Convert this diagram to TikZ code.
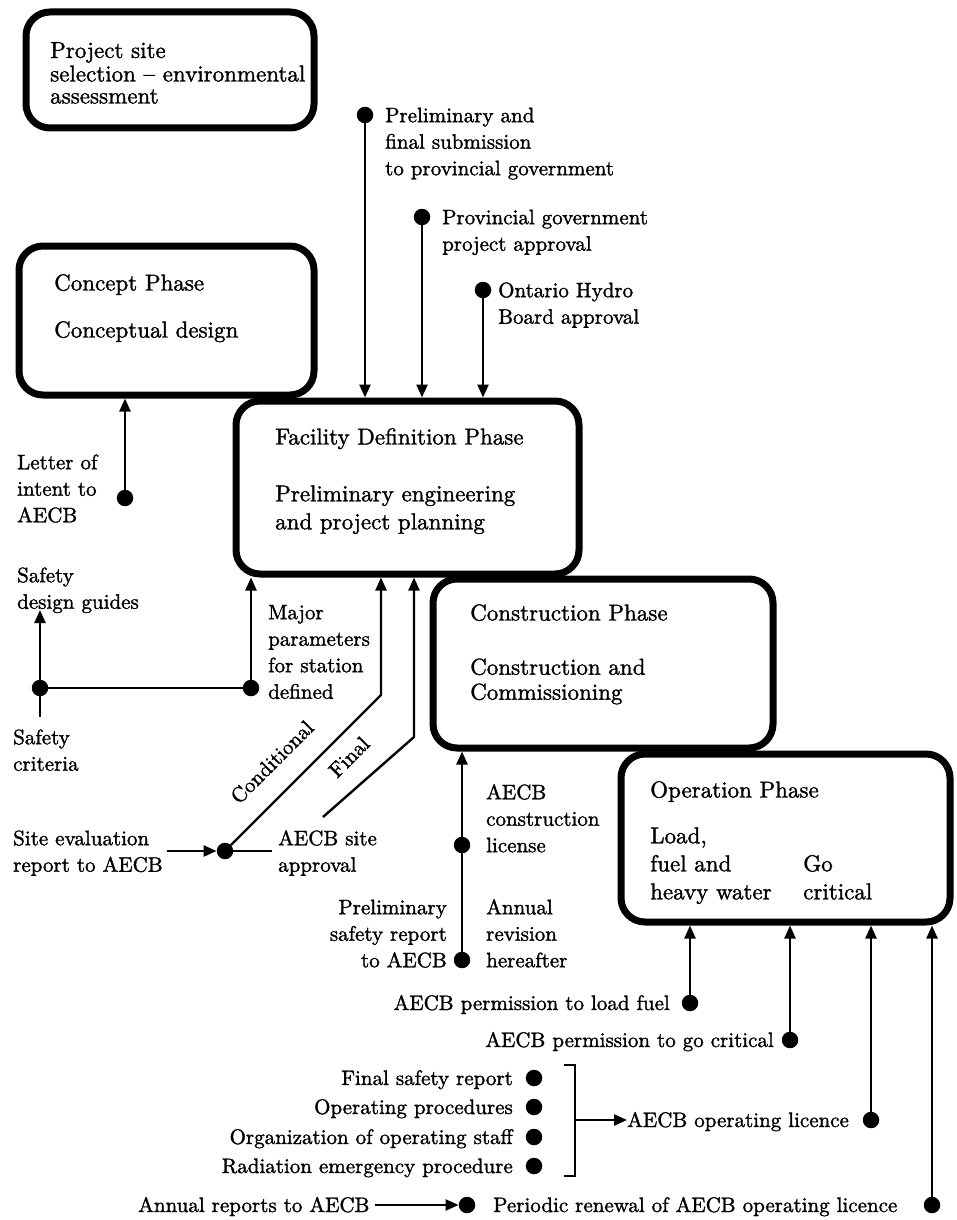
\documentclass[tikz,border=0pt]{standalone}
\usepackage{fontspec}
\setmainfont{lmroman10-regular}[Extension=.otf, FakeBold=1.4]
\usetikzlibrary{arrows.meta}
\newcommand\lblfont{\fontsize{21}{26.5}\selectfont}
\newcommand\boxfont{\fontsize{23}{25}\selectfont}
\begin{document}
\begin{tikzpicture}[x=1pt,y=-1pt,
  phase/.style={draw, line width=7pt, rounded corners=24pt, rectangle, inner sep=0pt},
  conn/.style={line width=2.4pt},
  arr/.style={conn, -{Triangle[length=13pt,width=11pt]}},
  dot/.style={circle, fill, inner sep=0pt, minimum size=16.5pt},
  lbl/.style={font=\lblfont, inner sep=0pt, align=left, anchor=north west},
  lblr/.style={font=\lblfont, inner sep=0pt, align=right, anchor=north east},
  one/.style={font=\lblfont, inner sep=0pt, anchor=base west},
  oner/.style={font=\lblfont, inner sep=0pt, anchor=base east},
  bt/.style={font=\boxfont, inner sep=0pt, align=left, anchor=north west},
  bt1/.style={font=\boxfont, inner sep=0pt, anchor=base west}]
\useasboundingbox (0,0) rectangle (956,1220);

% ---------------- phase boxes ----------------
\node[phase, minimum width=288pt, minimum height=116pt] (site)  at (170,70) {};
\node[phase, minimum width=295pt, minimum height=149pt] (concept) at (166.5,320.5) {};
\node[phase, minimum width=343pt, minimum height=173pt] (facility) at (407.5,487.5) {};
\node[phase, minimum width=340pt, minimum height=169pt] (constr) at (603,663.5) {};
\node[phase, minimum width=329pt, minimum height=168pt] (oper) at (785.5,838) {};

% ---------------- box texts ----------------
\node[bt, font=\fontsize{23}{22}\selectfont] (siteT) at (50,42) {\strut Project site\\selection -- environmental\\assessment};
\node[bt1] (conceptT) at (54,290.5) {Concept Phase};
\node[bt1] (conceptD) at (54,337.5) {Conceptual design};
\node[bt1] (facilityT) at (275,444.5) {Facility Definition Phase};
\node[bt, font=\fontsize{23}{28}\selectfont] (facilityD) at (275,481.5) {\strut Preliminary engineering\\and project planning};
\node[bt1] (constrT) at (470,620.5) {Construction Phase};
\node[bt] (constrD) at (470,657) {\strut Construction and\\Commissioning};
\node[bt1] (operT) at (650,797.5) {Operation Phase};
\node[bt, font=\fontsize{23}{28}\selectfont] (operL) at (650,823.5) {\strut Load,\\fuel and\\heavy water};
\node[bt, font=\fontsize{23}{28}\selectfont] (operG) at (803,851.5) {\strut Go\\critical};

% ---------------- inputs to facility definition (top) ----------------
\node[dot] (dprelim) at (365,115) {};
\node[dot] (dprov) at (422,217) {};
\node[dot] (dhydro) at (483,290) {};
\node[lbl] (lprelim) at (385,103.5) {\strut Preliminary and\\final submission\\to provincial government};
\node[lbl] (lprov) at (442,205.5) {\strut Provincial government\\project approval};
\node[lbl] (lhydro) at (498,278.5) {\strut Ontario Hydro\\Board approval};
\draw[arr] (dprelim) -- (dprelim |- facility.north);
\draw[arr] (dprov) -- (dprov |- facility.north);
\draw[arr] (dhydro) -- (dhydro |- facility.north);

% ---------------- letter of intent ----------------
\node[dot] (dletter) at (125,498) {};
\node[lbl] (lletter) at (17,450.5) {\strut Letter of\\intent to\\AECB};
\draw[arr] (dletter) -- (dletter |- concept.south);

% ---------------- safety criteria / major parameters ----------------
\node[dot] (dsafe) at (40,688) {};
\node[dot] (dmajor) at (251,688) {};
\coordinate (guidesTip) at (40,610);
\coordinate (critEnd) at (40,717);
\node[lbl] (lguides) at (17,563.5) {\strut Safety\\design guides};
\node[lbl] (lcrit) at (13,725.5) {\strut Safety\\criteria};
\node[lbl] (lmajor) at (268,600.5) {\strut Major\\parameters\\for station\\defined};
\draw[arr] (dsafe) -- (guidesTip);
\draw[conn] (dsafe) -- (critEnd);
\draw[conn] (dsafe) -- (dmajor);
\draw[arr] (dmajor) -- (dmajor |- facility.south);

% ---------------- site evaluation / approvals ----------------
\node[dot] (dsite) at (225,851) {};
\coordinate (siteStart) at (167,851);
\coordinate (siteEnd) at (272,851);
\coordinate (condBend) at (381,695);
\coordinate (finalStart) at (323,817);
\coordinate (finalBend) at (414,737);
\node[lbl] (lsiteeval) at (13,826.5) {\strut Site evaluation\\report to AECB};
\node[lbl] (lsiteappr) at (278,826.5) {\strut AECB site\\approval};
\draw[arr] (siteStart) -- (dsite);
\draw[conn] (dsite) -- (siteEnd);
\draw[arr] (dsite) -- (condBend) -- (condBend |- facility.south);
\draw[arr] (finalStart) -- (finalBend) -- (finalBend |- facility.south);
\node[font=\lblfont, rotate=45, inner sep=0pt] (lcond) at (272,762) {Conditional};
\node[font=\lblfont, rotate=45, inner sep=0pt] (lfinal) at (349,757) {Final};

% ---------------- construction licence ----------------
\node[dot] (dlic) at (462,845) {};
\node[dot] (drep) at (462,960) {};
\node[lbl] (llic) at (486,780.5) {\strut AECB\\construction\\license};
\node[lblr] (lrep) at (447,895.5) {\strut Preliminary\\safety report\\to AECB};
\node[lbl] (lrev) at (486,895.5) {\strut Annual\\revision\\hereafter};
\draw[conn] (drep) -- (dlic);
\draw[arr] (dlic) -- (dlic |- constr.south);

% ---------------- operation permissions ----------------
\node[dot] (dfuel) at (690,1003) {};
\node[dot] (dcrit) at (790,1040) {};
\node[dot] (doplic) at (871,1120) {};
\node[dot] (drenew) at (932,1205) {};
\node[oner] (lfuel) at (670,1010) {AECB permission to load fuel};
\node[oner] (lcrit2) at (774,1047) {AECB permission to go critical};
\draw[arr] (dfuel) -- (dfuel |- oper.south);
\draw[arr] (dcrit) -- (dcrit |- oper.south);
\draw[arr] (doplic) -- (doplic |- oper.south);
\draw[arr] (drenew) -- (drenew |- oper.south);

% ---------------- operating licence requirements ----------------
\node[dot] (dfsr) at (534,1078) {};
\node[dot] (dopp) at (534,1107) {};
\node[dot] (dorg) at (534,1137) {};
\node[dot] (drad) at (534,1166) {};
\node[oner] (lfsr) at (513,1085) {Final safety report};
\node[oner] (lopp) at (513,1114) {Operating procedures};
\node[oner] (lorg) at (513,1144) {Organization of operating staff};
\node[oner] (lrad) at (513,1173) {Radiation emergency procedure};
\coordinate (brTopL) at (564,1065);
\coordinate (brTop) at (575,1065);
\coordinate (brBot) at (575,1176);
\coordinate (brBotL) at (564,1176);
\coordinate (brMid) at (575,1120);
\draw[line width=2.6pt] (brTopL) -- (brTop) -- (brBot) -- (brBotL);
\node[one] (loplic) at (627,1127) {AECB operating licence};
\draw[arr] (brMid) -- (loplic.west |- brMid);

% ---------------- annual reports / renewal ----------------
\node[dot] (dannual) at (467,1205) {};
\node[one] (lannual) at (138,1212) {Annual reports to AECB};
\node[one] (lrenew) at (493,1212) {Periodic renewal of AECB operating licence};
\draw[arr] (lannual.east |- dannual) ++(5,0) coordinate (annStart) -- (dannual);
\end{tikzpicture}
\end{document}
